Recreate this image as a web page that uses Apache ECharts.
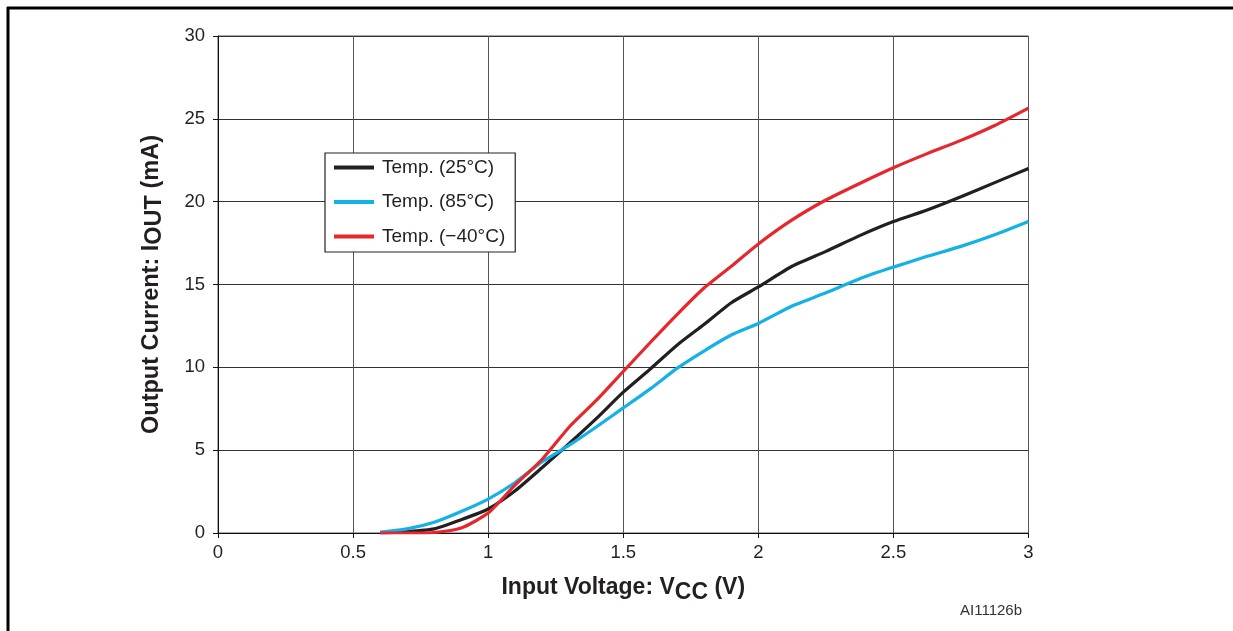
<!DOCTYPE html>
<html>
<head>
<meta charset="utf-8">
<script src="https://cdn.jsdelivr.net/npm/echarts@6/dist/echarts.min.js"></script>
<style>
html,body{margin:0;padding:0;background:#fff;}
#c{width:1233px;height:631px;}
</style>
</head>
<body>
<div id="c"></div>
<script>
// Input voltage (V)
var vcc = [0.6, 0.7, 0.8, 0.9, 1.0, 1.1, 1.2, 1.3, 1.4, 1.5, 1.6, 1.7, 1.8, 1.9, 2.0, 2.125, 2.25, 2.375, 2.5, 2.625, 2.75, 2.875, 3.0];
// Output current (mA)
var iout25 = [0.0, 0.08, 0.25, 0.8, 1.45, 2.55, 3.95, 5.4, 6.9, 8.5, 9.9, 11.35, 12.6, 13.9, 14.85, 16.1, 17.0, 17.95, 18.8, 19.5, 20.3, 21.15, 22.0];
var iout85 = [0.05, 0.25, 0.65, 1.3, 2.05, 3.05, 4.3, 5.3, 6.4, 7.55, 8.7, 9.95, 11.0, 11.95, 12.65, 13.7, 14.5, 15.35, 16.05, 16.7, 17.3, 18.0, 18.8];
var ioutM40 = [0.0, 0.0, 0.03, 0.3, 1.2, 2.9, 4.45, 6.4, 8.0, 9.75, 11.5, 13.2, 14.8, 16.1, 17.45, 18.9, 20.1, 21.1, 22.05, 22.9, 23.7, 24.6, 25.65];
var seriesNames = ['Temp. (25°C)', 'Temp. (85°C)', 'Temp. (\u221240°C)'];
var xTicks = { min: 0, max: 3, interval: 0.5 };
var yTicks = { min: 0, max: 30, interval: 5 };

function pairs(xs, ys) { return xs.map(function (x, i) { return [x, ys[i]]; }); }

var font = 'Liberation Sans, Arial, Helvetica, sans-serif';
var chart = echarts.init(document.getElementById('c'), null, { renderer: 'canvas' });
var colors = ['#231f20', '#12b1e8', '#e8262b'];
var data = [iout25, iout85, ioutM40];

chart.setOption({
  animation: false,
  backgroundColor: '#ffffff',
  grid: { left: 218, right: 204.5, top: 36, bottom: 98, show: true, borderColor: '#555', borderWidth: 1 },
  legend: {
    orient: 'vertical',
    left: 325, top: 153,
    padding: [5, 10, 6, 9],
    backgroundColor: '#fff',
    borderColor: '#222', borderWidth: 1.2,
    itemWidth: 40, itemHeight: 4, itemGap: 15.5,
    icon: 'rect',
    textStyle: { fontFamily: font, fontSize: 19, color: '#231f20', padding: [0, 0, 0, 3], lineHeight: 19 },
    data: seriesNames
  },
  xAxis: {
    type: 'value', min: xTicks.min, max: xTicks.max, interval: xTicks.interval,
    axisLine: { show: true, lineStyle: { color: '#111', width: 1 } },
    axisTick: { show: true, length: 5, lineStyle: { color: '#111' } },
    splitLine: { show: true, lineStyle: { color: '#555', width: 1 } },
    axisLabel: { fontFamily: font, fontSize: 18.5, color: '#231f20', margin: 10 },
    name: '{t|Input Voltage: V}{s|CC}{t| (V)}',
    nameLocation: 'middle', nameGap: 39,
    nameTextStyle: {
      rich: {
        t: { fontFamily: font, fontSize: 23, fontWeight: 'bold', color: '#231f20' },
        s: { fontFamily: font, fontSize: 23, fontWeight: 'bold', color: '#231f20', padding: [9, 0, 0, 0] }
      }
    }
  },
  yAxis: {
    type: 'value', min: yTicks.min, max: yTicks.max, interval: yTicks.interval,
    axisLine: { show: true, lineStyle: { color: '#111', width: 1 } },
    axisTick: { show: true, length: 5, lineStyle: { color: '#111' } },
    splitLine: { show: true, lineStyle: { color: '#333', width: 1 } },
    axisLabel: { fontFamily: font, fontSize: 18.5, color: '#231f20', margin: 13 },
    name: '{t|Output Current: I}{s|OUT}{t| (mA)}',
    nameLocation: 'middle', nameGap: 51,
    nameTextStyle: {
      rich: {
        t: { fontFamily: font, fontSize: 23.5, fontWeight: 'bold', color: '#231f20' },
        s: { fontFamily: font, fontSize: 23.5, fontWeight: 'bold', color: '#231f20', padding: [7, 0, 0, 0] }
      }
    }
  },
  series: data.map(function (ys, i) {
    return {
      name: seriesNames[i], type: 'line', data: pairs(vcc, ys),
      showSymbol: false, smooth: 0.2,
      color: colors[i],
      lineStyle: { color: colors[i], width: 3.2 },
      z: 2 + i
    };
  }),
  graphic: [
    { type: 'line', shape: { x1: 7, y1: 8, x2: 1233, y2: 8 }, style: { stroke: '#000', lineWidth: 3 } },
    { type: 'line', shape: { x1: 8, y1: 7, x2: 8, y2: 631 }, style: { stroke: '#000', lineWidth: 3 } },
    { type: 'text', left: 960, top: 603, style: { text: 'AI11126b', font: '15px ' + font, fill: '#333' } }
  ]
});
</script>
</body>
</html>
